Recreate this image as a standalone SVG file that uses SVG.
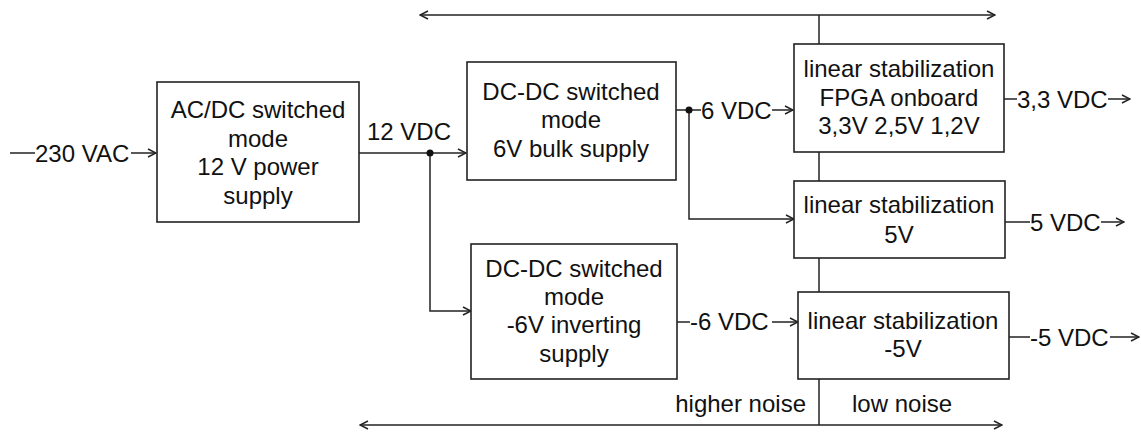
<svg xmlns="http://www.w3.org/2000/svg" width="1141" height="432" viewBox="0 0 1141 432">
<style>
.box{fill:#fff;stroke:#222;stroke-width:1.6}
.ln{fill:none;stroke:#222;stroke-width:1.5}
text{font-family:"Liberation Sans",Arial,sans-serif;font-size:24px;fill:#111}
.c{text-anchor:middle}
</style>
<defs>
<marker id="ah" viewBox="0 0 10 10" refX="9" refY="5" markerWidth="10" markerHeight="10" markerUnits="userSpaceOnUse" orient="auto-start-reverse">
<path d="M1,1 L9,5 L1,9" fill="none" stroke="#222" stroke-width="1.5"/>
</marker>
</defs>
<g id="connectors">
<path class="ln" d="M10,153 H35"/>
<path class="ln" d="M131,153 H156" marker-end="url(#ah)"/>
<path class="ln" d="M359,153 H466" marker-end="url(#ah)"/>
<path class="ln" d="M430,153 V311 H471" marker-end="url(#ah)"/>
<path class="ln" d="M676,110 H701"/>
<path class="ln" d="M772,110 H793" marker-end="url(#ah)"/>
<path class="ln" d="M689,110 V219 H794" marker-end="url(#ah)"/>
<path class="ln" d="M677,322 H690"/>
<path class="ln" d="M772,322 H798" marker-end="url(#ah)"/>
<path class="ln" d="M1004,99 H1017"/>
<path class="ln" d="M1108,99 H1130" marker-end="url(#ah)"/>
<path class="ln" d="M1005,222 H1030"/>
<path class="ln" d="M1101,222 H1124" marker-end="url(#ah)"/>
<path class="ln" d="M1009,337 H1030"/>
<path class="ln" d="M1110,337 H1139" marker-end="url(#ah)"/>
<path class="ln" d="M420,15 H995" marker-start="url(#ah)" marker-end="url(#ah)"/>
<path class="ln" d="M819,15 V44"/>
<path class="ln" d="M819,152 V181"/>
<path class="ln" d="M819,258 V292"/>
<path class="ln" d="M819,379 V425"/>
<path class="ln" d="M360,425 H1002" marker-start="url(#ah)" marker-end="url(#ah)"/>
<circle cx="430" cy="153" r="3.5" fill="#111"/>
<circle cx="689" cy="110" r="3.5" fill="#111"/>
<text x="35" y="162">230 VAC</text>
<text x="367" y="140">12 VDC</text>
<text x="701" y="119">6 VDC</text>
<text x="690" y="330">-6 VDC</text>
<text x="1017" y="108">3,3 VDC</text>
<text x="1030" y="231">5 VDC</text>
<text x="1030" y="346">-5 VDC</text>
<text x="806" y="412" text-anchor="end">higher noise</text>
<text x="852" y="412">low noise</text>
</g>
<g id="acdc">
<rect class="box" x="157" y="82" width="202" height="140"/>
<text class="c" x="258" y="118">AC/DC switched</text>
<text class="c" x="258" y="147">mode</text>
<text class="c" x="258" y="175">12 V power</text>
<text class="c" x="258" y="204">supply</text>
</g>
<g id="dcdc6">
<rect class="box" x="467" y="62" width="209" height="118"/>
<text class="c" x="571" y="100">DC-DC switched</text>
<text class="c" x="571" y="128">mode</text>
<text class="c" x="571" y="157">6V bulk supply</text>
</g>
<g id="dcdcm6">
<rect class="box" x="471" y="244" width="206" height="135"/>
<text class="c" x="574" y="277">DC-DC switched</text>
<text class="c" x="574" y="305">mode</text>
<text class="c" x="574" y="333">-6V inverting</text>
<text class="c" x="574" y="362">supply</text>
</g>
<g id="linfpga">
<rect class="box" x="794" y="44" width="210" height="108"/>
<text class="c" x="899" y="77">linear stabilization</text>
<text class="c" x="899" y="106">FPGA onboard</text>
<text class="c" x="899" y="134">3,3V 2,5V 1,2V</text>
</g>
<g id="lin5">
<rect class="box" x="794" y="181" width="211" height="77"/>
<text class="c" x="899" y="213">linear stabilization</text>
<text class="c" x="899" y="243">5V</text>
</g>
<g id="linm5">
<rect class="box" x="798" y="292" width="211" height="87"/>
<text class="c" x="903" y="329">linear stabilization</text>
<text class="c" x="903" y="357">-5V</text>
</g>
</svg>
